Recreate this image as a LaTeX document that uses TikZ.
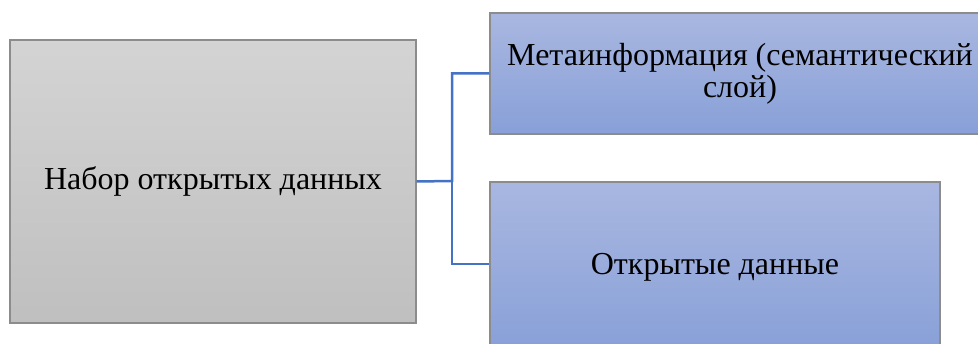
\documentclass[tikz,border=0pt]{standalone}
\usepackage{fontspec}
\setmainfont{Liberation Serif}
\begin{document}
\begin{tikzpicture}[x=1pt,y=-1pt,
  graybox/.style={draw=black!45,line width=1.2pt,top color=black!17,bottom color=black!25,rectangle,inner sep=0pt,
    font=\fontsize{32}{32}\selectfont,align=center},
  bluebox/.style={draw=black!45,line width=1.2pt,top color={rgb,255:red,169;green,183;blue,224},bottom color={rgb,255:red,136;green,160;blue,216},rectangle,inner sep=0pt,
    font=\fontsize{32}{32}\selectfont,align=center},
  conn/.style={draw={rgb,255:red,68;green,114;blue,196},line width=2.5pt}]
\useasboundingbox (0,0) rectangle (978,344);
\clip (0,0) rectangle (978,344);
\node[graybox,minimum width=406pt,minimum height=283pt] (set) at (213,181.5) {Набор открытых данных};
\node[bluebox,minimum width=500pt,minimum height=121pt] (meta) at (740,73.5) {Метаинформация (семантический\\слой)};
\node[bluebox,minimum width=450pt,minimum height=170pt] (open) at (715,267) {Открытые данные};
\coordinate (j) at (452,181);
\draw[conn] (set.east) -- (j) |- (meta.west);
\draw[conn] (j) |- (open.west |- 0,264);
\end{tikzpicture}
\end{document}
